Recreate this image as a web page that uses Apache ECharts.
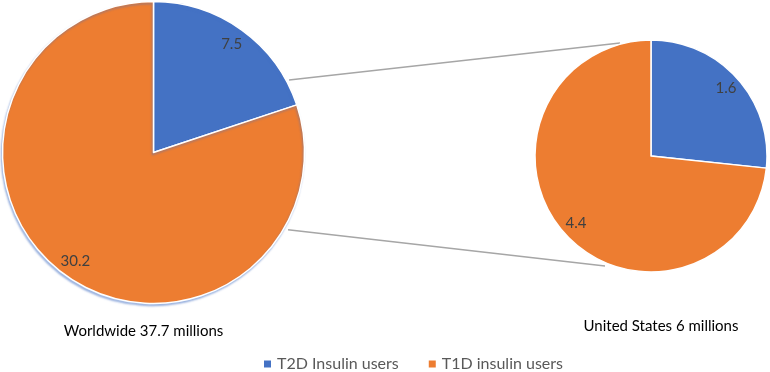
<!DOCTYPE html>
<html>
<head>
<meta charset="utf-8">
<script src="https://cdn.jsdelivr.net/npm/echarts@6/dist/echarts.min.js"></script>
<style>html,body{margin:0;padding:0;background:#fff}#c{width:770px;height:372px}</style>
</head>
<body>
<div id="c"></div>
<script>
const categories = ['T2D Insulin users', 'T1D insulin users'];
const worldwideValues = [7.5, 30.2];
const usValues = [1.6, 4.4];
const pieTitles = ['Worldwide 37.7 millions', 'United States 6 millions'];
const colors = ['#4472C4', '#ED7D31'];

const FONT = 'Lato, "Open Sans", sans-serif';
const leftC = [153.5, 152.5], leftR = 151;
const rightC = [651, 156], rightR = 116;

function toData(vals) { return categories.map((n, i) => ({ name: n, value: vals[i] })); }
function pt(c, d, deg) { const a = deg * Math.PI / 180; return [c[0] + d * Math.cos(a), c[1] + d * Math.sin(a)]; }

function pieSeries(center, r, vals, shadow) {
  return {
    type: 'pie', center: center, radius: [0, r], startAngle: 90, clockwise: true,
    data: toData(vals), silent: true, label: { show: false }, labelLine: { show: false },
    itemStyle: Object.assign({ borderColor: '#fff', borderWidth: 1.5 }, shadow ? { shadowColor: 'rgba(68,114,196,0.45)', shadowBlur: 2, shadowOffsetX: -1, shadowOffsetY: 2 } : {}),
    emphasis: { disabled: true }, animation: false, z: 2
  };
}
function labelSeries(center, r, inner, vals) {
  return {
    type: 'pie', center: center, radius: [inner, r], startAngle: 90, clockwise: true,
    data: toData(vals), silent: true, avoidLabelOverlap: false,
    itemStyle: { color: 'rgba(0,0,0,0)', borderWidth: 0 },
    label: { show: true, position: 'inside', formatter: '{c}', color: '#404040', fontSize: 15, fontFamily: FONT },
    labelLine: { show: false }, emphasis: { disabled: true }, animation: false, z: 3
  };
}

const u1 = pt(leftC, 153.7, -28.1), u2 = pt(rightC, 117.2, -105.3);
const l1 = pt(leftC, 155.2, 29.9), l2 = pt(rightC, 119.2, 112.7);

const chart = echarts.init(document.getElementById('c'));
chart.setOption({
  animation: false,
  color: colors,
  legend: {
    data: categories, top: 351, left: 257, icon: 'rect', itemWidth: 9, itemHeight: 9, itemGap: 28,
    textStyle: { fontSize: 16, color: '#595959', fontFamily: FONT }, selectedMode: false
  },
  graphic: [
    { type: 'line', shape: { x1: u1[0], y1: u1[1], x2: u2[0], y2: u2[1] }, style: { stroke: '#a6a6a6', lineWidth: 1.5 }, z: 1 },
    { type: 'line', shape: { x1: l1[0], y1: l1[1], x2: l2[0], y2: l2[1] }, style: { stroke: '#a6a6a6', lineWidth: 1.5 }, z: 1 },
    { type: 'text', x: 143.5, y: 331, style: { text: pieTitles[0], fill: '#000', font: '15px ' + FONT, textAlign: 'center', textVerticalAlign: 'middle' } },
    { type: 'text', x: 661, y: 326, style: { text: pieTitles[1], fill: '#000', font: '15px ' + FONT, textAlign: 'center', textVerticalAlign: 'middle' } }
  ],
  series: [
    pieSeries(leftC, leftR, worldwideValues, true),
    pieSeries(rightC, rightR, usValues, false),
    labelSeries(leftC, leftR, 110, worldwideValues),
    labelSeries(rightC, rightR, 80, usValues)
  ]
});
</script>
</body>
</html>
